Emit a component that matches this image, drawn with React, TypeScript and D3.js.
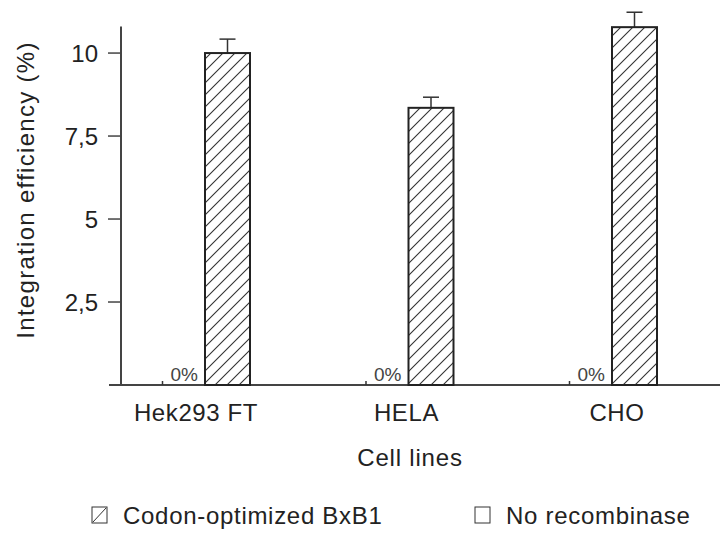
import React, { useEffect, useRef } from 'react';
import * as d3 from 'd3';

const cellLines = ['Hek293 FT', 'HELA', 'CHO'];
const seriesNames = ['No recombinase', 'Codon-optimized BxB1'];
const noRecombinase = [0, 0, 0];
const codonOptimized = [10.0, 8.35, 10.78];
const codonError = [0.42, 0.32, 0.45];
const yTicks = [2.5, 5, 7.5, 10];
const yTickLabels = ['2,5', '5', '7,5', '10'];

const FONT = '"Liberation Sans", Arial, sans-serif';
const INK = '#222';
const AXIS = '#444';

const App: React.FC = () => {
  const ref = useRef<SVGSVGElement>(null);

  useEffect(() => {
    if (ref.current) drawChart(ref.current);
  }, []);

  return (
    <svg
      ref={ref}
      width={720}
      height={534}
      style={{ position: 'absolute', left: 0, top: 0, background: '#fff' }}
    />
  );
};

const label = (
  sel: d3.Selection<SVGSVGElement, unknown, null, undefined>,
  text: string,
  size: number,
  spacing: number
) =>
  sel
    .append('text')
    .attr('font-family', FONT)
    .attr('font-size', size)
    .attr('letter-spacing', spacing)
    .attr('fill', INK)
    .text(text);

const drawChart = (el: SVGSVGElement) => {
  const svg = d3.select(el);
  svg.selectAll('*').remove();

  const x0 = 121;
  const baseY = 385;

  const defs = svg.append('defs');
  const pat = defs
    .append('pattern')
    .attr('id', 'hatch')
    .attr('patternUnits', 'userSpaceOnUse')
    .attr('width', 12)
    .attr('height', 12);
  pat.append('rect').attr('width', 12).attr('height', 12).attr('fill', '#fff');
  pat
    .append('path')
    .attr('d', 'M-3,15 L15,-3 M-3,3 L3,-3 M9,15 L15,9')
    .attr('stroke', '#333')
    .attr('stroke-width', 1.1);

  const y = d3.scaleLinear().domain([0, 10.8]).range([baseY, 26.5]);
  const xGroup = d3.scalePoint<string>().domain(cellLines).range([195, 602]);
  const xSub = d3.scaleBand<string>().domain(seriesNames).range([-55, 55]).paddingInner(0.3077);
  const xLabel = d3.scalePoint<string>().domain(cellLines).range([196, 617]);
  const bw = xSub.bandwidth();

  // baseline
  svg
    .append('line')
    .attr('x1', 109)
    .attr('x2', 720)
    .attr('y1', baseY)
    .attr('y2', baseY)
    .attr('stroke', AXIS)
    .attr('stroke-width', 2);

  // y axis
  const yAxisG = svg.append('g').attr('transform', `translate(${x0},0)`);
  yAxisG
    .append('line')
    .attr('y1', y(10.8))
    .attr('y2', baseY)
    .attr('stroke', AXIS)
    .attr('stroke-width', 2);
  yTicks.forEach((t, i) => {
    yAxisG
      .append('line')
      .attr('x1', -13)
      .attr('x2', 0)
      .attr('y1', y(t))
      .attr('y2', y(t))
      .attr('stroke', AXIS)
      .attr('stroke-width', 1.5);
    yAxisG
      .append('text')
      .attr('x', -23)
      .attr('y', y(t))
      .attr('dy', '0.36em')
      .attr('text-anchor', 'end')
      .attr('font-family', FONT)
      .attr('font-size', 24)
      .attr('fill', INK)
      .text(yTickLabels[i]);
  });

  label(svg, 'Integration efficiency (%)', 24, 1.3)
    .attr('transform', `translate(34,190) rotate(-90)`)
    .attr('text-anchor', 'middle');

  // zero bars: No recombinase
  cellLines.forEach((c, i) => {
    const cx = (xGroup(c) || 0) + (xSub(seriesNames[0]) || 0) + bw / 2;
    svg
      .append('line')
      .attr('x1', cx)
      .attr('x2', cx)
      .attr('y1', y(noRecombinase[i]) - 4)
      .attr('y2', baseY)
      .attr('stroke', '#333')
      .attr('stroke-width', 1.5);
    svg
      .append('text')
      .attr('x', cx + 8)
      .attr('y', baseY - 4)
      .attr('font-family', FONT)
      .attr('font-size', 19)
      .attr('fill', '#444')
      .text(`${noRecombinase[i]}%`);
  });

  // hatched bars: Codon-optimized BxB1
  cellLines.forEach((c, i) => {
    const bx = (xGroup(c) || 0) + (xSub(seriesNames[1]) || 0);
    const cx = bx + bw / 2;
    const top = y(codonOptimized[i]);
    const errTop = y(codonOptimized[i] + codonError[i]);
    svg
      .append('line')
      .attr('x1', cx)
      .attr('x2', cx)
      .attr('y1', top)
      .attr('y2', errTop)
      .attr('stroke', '#333')
      .attr('stroke-width', 1.5);
    svg
      .append('line')
      .attr('x1', cx - 8)
      .attr('x2', cx + 8)
      .attr('y1', errTop)
      .attr('y2', errTop)
      .attr('stroke', '#333')
      .attr('stroke-width', 1.5);
    svg
      .append('rect')
      .attr('x', bx)
      .attr('y', top)
      .attr('width', bw)
      .attr('height', baseY - top)
      .attr('fill', 'url(#hatch)')
      .attr('stroke', '#222')
      .attr('stroke-width', 2);
  });

  // category labels
  cellLines.forEach((c) => {
    label(svg, c, 24, 0.6)
      .attr('x', xLabel(c) || 0)
      .attr('y', 421)
      .attr('text-anchor', 'middle');
  });

  label(svg, 'Cell lines', 24, 0.8).attr('x', 410).attr('y', 466).attr('text-anchor', 'middle');

  // legend
  const legend = [
    { name: seriesNames[1], x: 92, hatched: true },
    { name: seriesNames[0], x: 475, hatched: false },
  ];
  legend.forEach((l) => {
    svg
      .append('rect')
      .attr('x', l.x)
      .attr('y', 507)
      .attr('width', 15)
      .attr('height', 16)
      .attr('fill', '#fff')
      .attr('stroke', '#333')
      .attr('stroke-width', 1);
    if (l.hatched) {
      svg
        .append('line')
        .attr('x1', l.x + 1)
        .attr('y1', 522)
        .attr('x2', l.x + 14)
        .attr('y2', 508)
        .attr('stroke', '#333')
        .attr('stroke-width', 1);
    }
    label(svg, l.name, 24, 0.7)
      .attr('x', l.x + 31)
      .attr('y', 524);
  });
};

export default App;
